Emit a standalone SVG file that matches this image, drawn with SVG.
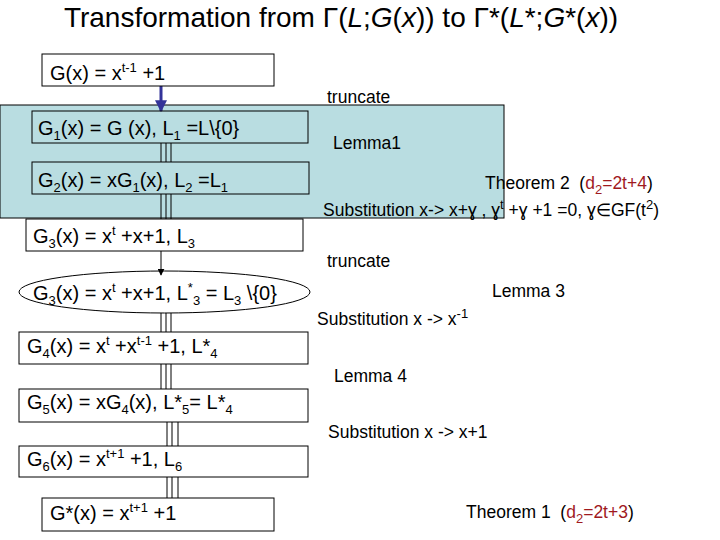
<svg xmlns="http://www.w3.org/2000/svg" width="720" height="540" viewBox="0 0 720 540">
<style>
text{font-family:"Liberation Sans",Arial,"DejaVu Sans",sans-serif;fill:#000;white-space:pre}
.box{fill:none;stroke:#000;stroke-width:1}
.bx{font-size:20px}
.lab{font-size:17.5px}
.s{font-size:13px}
.red{fill:#a0191e}
.tl{stroke:#000;stroke-width:1;fill:none}
</style>
<defs>
<marker id="ab" viewBox="0 0 10 10" refX="9" refY="5" markerWidth="4" markerHeight="4" orient="auto" markerUnits="strokeWidth"><path d="M0,0 L10,5 L0,10 z" fill="#333399"/></marker>
<marker id="ak" viewBox="0 0 10 10" refX="9" refY="5" markerWidth="7" markerHeight="7" orient="auto" markerUnits="strokeWidth"><path d="M0,0 L10,5 L0,10 z" fill="#000"/></marker>
</defs>
<rect width="720" height="540" fill="#fff"/>
<text x="341" y="27" font-size="28" text-anchor="middle">Transformation from Γ(<tspan font-style="italic">L</tspan>;<tspan font-style="italic">G</tspan>(<tspan font-style="italic">x</tspan>)) to Γ*(<tspan font-style="italic">L</tspan>*;<tspan font-style="italic">G</tspan>*(<tspan font-style="italic">x</tspan>))</text>
<g id="group-lemma1"><rect x="0" y="105" width="504" height="113" fill="#b9dde1" stroke="#000" stroke-width="1"/></g>
<g id="connectors">
<line x1="161" y1="86" x2="161" y2="111" stroke="#333399" stroke-width="3" marker-end="url(#ab)"/>
<path class="tl" d="M161,143V162M166,143V162M171,143V162"/>
<path class="tl" d="M161,194V219M166,194V219M171,194V219"/>
<line x1="161" y1="251" x2="161" y2="275" stroke="#000" stroke-width="1" marker-end="url(#ak)"/>
<path class="tl" d="M161,313V332M166,313V332M171,313V332"/>
<path class="tl" d="M161,364V389M166,364V389M171,364V389"/>
<path class="tl" d="M167,422V446M172,422V446M178,422V446"/>
<path class="tl" d="M167,477V498M172,477V498M178,477V498"/>
</g>
<g id="n-g"><rect class="box" x="42" y="54" width="232" height="32"/><text class="bx" x="50" y="80">G(x) = x<tspan class="s" dy="-8">t-1</tspan><tspan dy="8"> +1</tspan></text></g>
<g id="n-g1"><rect class="box" x="32" y="111" width="276" height="32"/><text class="bx" x="38" y="135">G<tspan class="s" dy="5">1</tspan><tspan dy="-5">(x) = G (x), L</tspan><tspan class="s" dy="5">1</tspan><tspan dy="-5"> =L\{0}</tspan></text></g>
<g id="n-g2"><rect class="box" x="32" y="162" width="277" height="32"/><text class="bx" x="38" y="187">G<tspan class="s" dy="5">2</tspan><tspan dy="-5">(x) = xG</tspan><tspan class="s" dy="5">1</tspan><tspan dy="-5">(x), L</tspan><tspan class="s" dy="5">2</tspan><tspan dy="-5"> =L</tspan><tspan class="s" dy="5">1</tspan></text></g>
<g id="n-g3"><rect class="box" x="26" y="219" width="277" height="32" fill="#fff"/><text class="bx" x="33" y="243">G<tspan class="s" dy="5">3</tspan><tspan dy="-5">(x) = x</tspan><tspan class="s" dy="-8">t</tspan><tspan dy="8"> +x+1, L</tspan><tspan class="s" dy="5">3</tspan></text></g>
<g id="n-g3s"><ellipse class="box" cx="164.5" cy="292" rx="145.5" ry="21"/><text class="bx" x="33" y="300">G<tspan class="s" dy="5">3</tspan><tspan dy="-5">(x) = x</tspan><tspan class="s" dy="-8">t</tspan><tspan dy="8"> +x+1, L</tspan><tspan class="s" dy="-8">*</tspan><tspan class="s" dy="13">3</tspan><tspan dy="-5"> = L</tspan><tspan class="s" dy="5">3</tspan><tspan dy="-5"> \{0}</tspan></text></g>
<g id="n-g4"><rect class="box" x="19" y="332" width="289" height="32"/><text class="bx" x="27" y="353">G<tspan class="s" dy="5">4</tspan><tspan dy="-5">(x) = x</tspan><tspan class="s" dy="-8">t</tspan><tspan dy="8"> +x</tspan><tspan class="s" dy="-8">t-1</tspan><tspan dy="8"> +1, L*</tspan><tspan class="s" dy="5">4</tspan></text></g>
<g id="n-g5"><rect class="box" x="19" y="389" width="289" height="33"/><text class="bx" x="27" y="409">G<tspan class="s" dy="5">5</tspan><tspan dy="-5">(x) = xG</tspan><tspan class="s" dy="5">4</tspan><tspan dy="-5">(x), L*</tspan><tspan class="s" dy="5">5</tspan><tspan dy="-5">= L*</tspan><tspan class="s" dy="5">4</tspan></text></g>
<g id="n-g6"><rect class="box" x="19" y="446" width="289" height="31"/><text class="bx" x="27" y="466">G<tspan class="s" dy="5">6</tspan><tspan dy="-5">(x) = x</tspan><tspan class="s" dy="-8">t+1</tspan><tspan dy="8"> +1, L</tspan><tspan class="s" dy="5">6</tspan></text></g>
<g id="n-gstar"><rect class="box" x="42" y="498" width="232" height="33"/><text class="bx" x="50" y="520">G*(x) = x<tspan class="s" dy="-8">t+1</tspan><tspan dy="8"> +1</tspan></text></g>
<g id="labels">
<text class="lab" x="327" y="103">truncate</text>
<text class="lab" x="333" y="149">Lemma1</text>
<text class="lab" x="485" y="189">Theorem 2  (<tspan class="red">d</tspan><tspan class="red s" dy="5">2</tspan><tspan class="red" dy="-5">=2t+4</tspan>)</text>
<text class="lab" x="323" y="216">Substitution x-&gt; x+ɣ , ɣ<tspan class="s" dy="-7">t</tspan><tspan dy="7"> +ɣ +1 =0, ɣ∈GF(t</tspan><tspan class="s" dy="-7">2</tspan><tspan dy="7">)</tspan></text>
<text class="lab" x="327" y="267">truncate</text>
<text class="lab" x="492" y="297">Lemma 3</text>
<text class="lab" x="317" y="325">Substitution x -&gt; x<tspan class="s" dy="-7">-1</tspan></text>
<text class="lab" x="334" y="382">Lemma 4</text>
<text class="lab" x="328" y="438">Substitution x -&gt; x+1</text>
<text class="lab" x="466" y="518">Theorem 1  (<tspan class="red">d</tspan><tspan class="red s" dy="5">2</tspan><tspan class="red" dy="-5">=2t+3</tspan>)</text>
</g>
</svg>
